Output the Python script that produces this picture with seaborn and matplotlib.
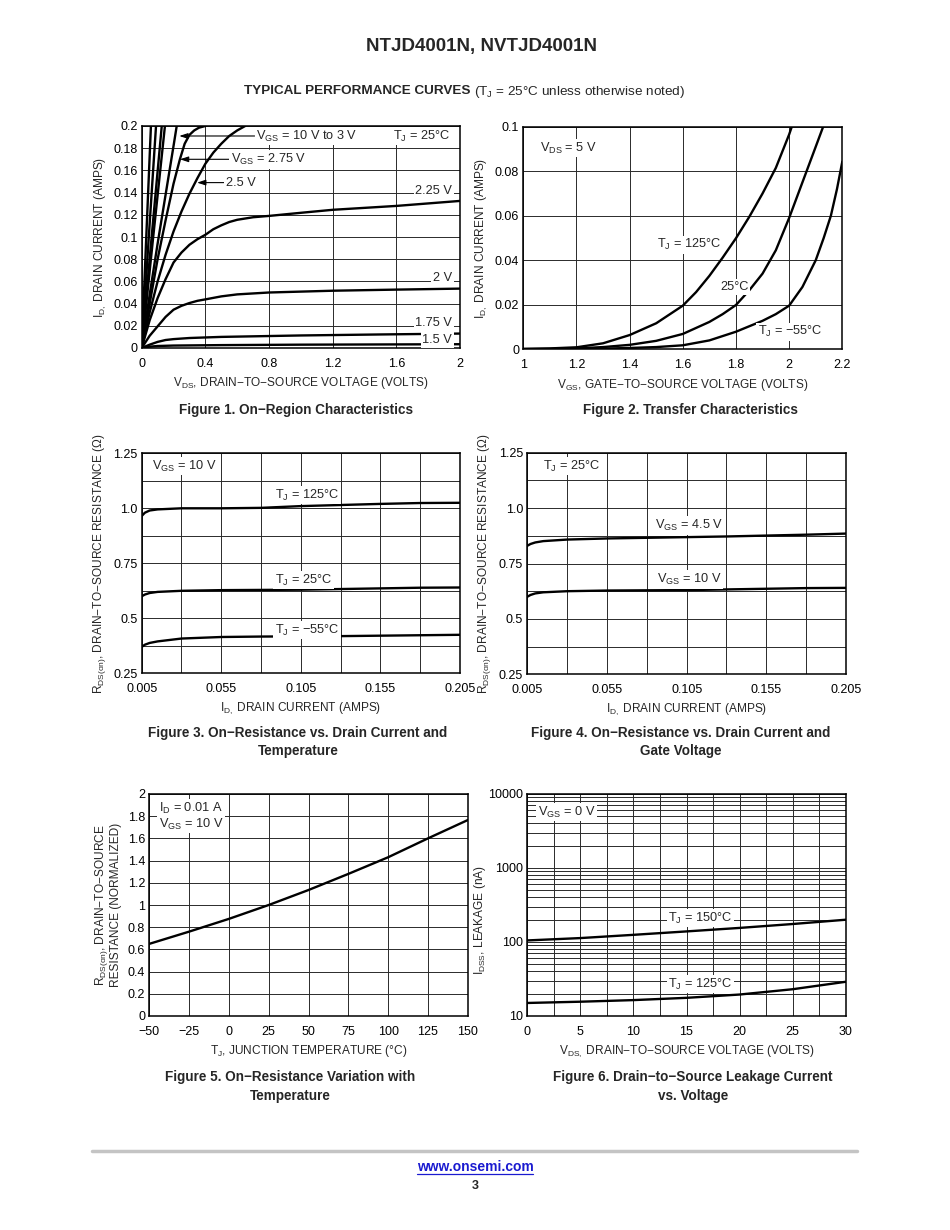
import numpy as np
import pandas as pd
import matplotlib
matplotlib.use("Agg")
import matplotlib.pyplot as plt
import seaborn as sns
from matplotlib.ticker import MultipleLocator, FixedLocator, NullFormatter, FuncFormatter, LogLocator
from matplotlib.lines import Line2D

# ---------------- DATA ----------------
# Figure 1: On-region characteristics (VDS in V, ID in A)
f1_vgs10_vds = [0, 0.029, 0.058]
f1_vgs10_id = [0, 0.101, 0.2]
f1_vgs45_vds = [0, 0.045, 0.09]
f1_vgs45_id = [0, 0.101, 0.2]
f1_vgs4_vds = [0, 0.063, 0.126]
f1_vgs4_id = [0, 0.101, 0.2]
f1_vgs35_vds = [0, 0.073, 0.146]
f1_vgs35_id = [0, 0.101, 0.2]
f1_vgs3_vds = [0, 0.05, 0.1, 0.15, 0.2, 0.22]
f1_vgs3_id = [0, 0.048, 0.094, 0.138, 0.182, 0.2]
f1_vgs275_vds = [0, 0.05, 0.1, 0.15, 0.2, 0.24, 0.27, 0.3, 0.33, 0.36, 0.4]
f1_vgs275_id = [0, 0.04, 0.08, 0.115, 0.148, 0.170, 0.184, 0.192, 0.196, 0.1985, 0.2]
f1_vgs25_vds = [0, 0.05, 0.1, 0.15, 0.2, 0.25, 0.3, 0.35, 0.4, 0.45, 0.5, 0.55, 0.6, 0.65]
f1_vgs25_id = [0, 0.032, 0.06, 0.084, 0.105, 0.123, 0.139, 0.153, 0.166, 0.176, 0.184, 0.191, 0.196, 0.2]
f1_vgs225_vds = [0, 0.05, 0.1, 0.15, 0.2, 0.25, 0.3, 0.35, 0.4, 0.45, 0.5, 0.55, 0.6, 0.7, 0.8, 1.0, 1.2, 1.6, 2.0]
f1_vgs225_id = [0, 0.025, 0.045, 0.062, 0.077, 0.086, 0.093, 0.098, 0.102, 0.107, 0.1105, 0.1135, 0.1155, 0.1178, 0.119,
                0.1218, 0.1245, 0.128, 0.1325]
f1_vgs2_vds = [0, 0.05, 0.1, 0.15, 0.2, 0.25, 0.3, 0.35, 0.4, 0.5, 0.6, 0.8, 1.2, 1.6, 2.0]
f1_vgs2_id = [0, 0.011, 0.0195, 0.028, 0.0345, 0.038, 0.0405, 0.0425, 0.0438, 0.0465, 0.0483, 0.0500, 0.0516, 0.0526, 0.0535]
f1_vgs175_vds = [0, 0.05, 0.1, 0.15, 0.2, 0.3, 0.5, 1.0, 1.5, 2.0]
f1_vgs175_id = [0, 0.003, 0.0055, 0.0072, 0.008, 0.009, 0.01, 0.0113, 0.0122, 0.013]
f1_vgs15_vds = [0, 0.05, 0.1, 0.2, 0.5, 1.0, 2.0]
f1_vgs15_id = [0, 0.0012, 0.0018, 0.0022, 0.0026, 0.003, 0.0034]

# Figure 2: Transfer characteristics (VGS in V, ID in A)
f2_125_vgs = [1.0, 1.1, 1.2, 1.3, 1.4, 1.5, 1.6, 1.65, 1.7, 1.75, 1.8, 1.85, 1.9, 1.95, 2.0, 2.01]
f2_125_id = [0.0002, 0.0004, 0.0009, 0.0027, 0.0064, 0.0117, 0.0196, 0.0257, 0.033, 0.0412, 0.0499, 0.0595,
             0.070, 0.0815, 0.0965, 0.1]
f2_25_vgs = [1.0, 1.1, 1.2, 1.3, 1.4, 1.5, 1.6, 1.7, 1.75, 1.8, 1.85, 1.9, 1.95, 2.0, 2.05, 2.1, 2.128]
f2_25_id = [0.0001, 0.0002, 0.0004, 0.001, 0.002, 0.0038, 0.0069, 0.0123, 0.0158, 0.0199, 0.0265, 0.034, 0.0445,
            0.059, 0.075, 0.091, 0.1]
f2_m55_vgs = [1.0, 1.2, 1.3, 1.4, 1.5, 1.6, 1.7, 1.8, 1.9, 1.95, 2.0, 2.05, 2.1, 2.13, 2.157, 2.18, 2.2]
f2_m55_id = [0.0, 0.0001, 0.0003, 0.0006, 0.001, 0.0018, 0.004, 0.0079, 0.0128, 0.0158, 0.0196, 0.028, 0.040,
             0.050, 0.060, 0.072, 0.0843]

# Figure 3: RDS(on) vs ID and temperature (ID in A, R in ohm)
f3_id = [0.005, 0.007, 0.01, 0.015, 0.03, 0.055, 0.08, 0.105, 0.13, 0.155, 0.18, 0.205]
f3_125 = [0.965, 0.98, 0.99, 0.995, 1.0, 1.0, 1.002, 1.01, 1.015, 1.02, 1.024, 1.025]
f3_25 = [0.60, 0.608, 0.615, 0.62, 0.625, 0.628, 0.629, 0.63, 0.633, 0.636, 0.639, 0.64]
f3_m55 = [0.37, 0.38, 0.388, 0.395, 0.408, 0.415, 0.417, 0.418, 0.419, 0.421, 0.423, 0.425]

# Figure 4: RDS(on) vs ID and gate voltage
f4_id = [0.005, 0.007, 0.01, 0.015, 0.03, 0.055, 0.08, 0.105, 0.13, 0.155, 0.18, 0.205]
f4_vgs45 = [0.83, 0.838, 0.845, 0.851, 0.858, 0.863, 0.866, 0.869, 0.872, 0.876, 0.88, 0.885]
f4_vgs10 = [0.60, 0.608, 0.615, 0.62, 0.625, 0.628, 0.629, 0.63, 0.633, 0.636, 0.639, 0.64]

# Figure 5: normalized RDS(on) vs junction temperature
f5_tj = [-50, -25, 0, 25, 50, 75, 100, 125, 150]
f5_r = [0.65, 0.76, 0.875, 1.0, 1.135, 1.28, 1.43, 1.6, 1.765]

# Figure 6: leakage current vs VDS (nA)
f6_vds = [0, 5, 10, 15, 20, 25, 30]
f6_150 = [105, 113, 125, 139, 155, 175, 200]
f6_125 = [15, 15.6, 16.4, 17.6, 19.5, 23, 29]

# ---------------- STYLE ----------------
sns.set_theme(style="white")
plt.rcParams["font.family"] = ["Liberation Sans", "DejaVu Sans"]
plt.rcParams["mathtext.fontset"] = "custom"
plt.rcParams["mathtext.rm"] = "Liberation Sans"
plt.rcParams["mathtext.it"] = "Liberation Sans"
plt.rcParams["axes.unicode_minus"] = True

W, H = 950, 1230
fig = plt.figure(figsize=(W / 100, H / 100), dpi=100)
fig.patch.set_facecolor("white")

TICK_FS = 9
LAB_FS = 8.6
ANN_FS = 9.2
CAP_FS = 9.75
CURVE_LW = 1.7
GRID_C = "#2a2a2a"
GRID_LW = 0.7


def px_axes(x0, y0, x1, y1):
    return fig.add_axes([x0 / W, 1 - y1 / H, (x1 - x0) / W, (y1 - y0) / H])


def style(ax):
    for s in ax.spines.values():
        s.set_color("black")
        s.set_linewidth(1.1)
    ax.tick_params(which="both", length=0, labelsize=TICK_FS, colors="black")
    ax.tick_params(axis="x", pad=7)
    ax.tick_params(axis="y", pad=3)
    ax.grid(which="both", color=GRID_C, lw=GRID_LW)
    ax.set_axisbelow(True)
    ax.set_facecolor("white")


def curve(ax, x, y):
    sns.lineplot(x=x, y=y, ax=ax, color="black", lw=CURVE_LW, estimator=None, sort=False)


def label(ax, x, y, s, ha="left", va="center"):
    ax.text(x, y, s, ha=ha, va=va, fontsize=ANN_FS, zorder=5,
            bbox=dict(facecolor="white", edgecolor="none", pad=1.2))


def arrow_label(ax, xy, xytext, s):
    ax.annotate(s, xy=xy, xytext=xytext, ha="left", va="center", fontsize=ANN_FS, zorder=5,
                bbox=dict(facecolor="white", edgecolor="none", pad=1.2),
                arrowprops=dict(arrowstyle="-|>,head_length=0.55,head_width=0.18", color="black",
                                lw=0.8, shrinkA=0, shrinkB=0))


gfmt = FuncFormatter(lambda v, p: f"{v:g}".replace("-", "\u2212"))
XLP = 4

# ---------------- FIGURE 1 ----------------
ax1 = px_axes(141.7, 126, 460, 348)
style(ax1)
for xs, ys in [(f1_vgs10_vds, f1_vgs10_id), (f1_vgs45_vds, f1_vgs45_id), (f1_vgs4_vds, f1_vgs4_id),
               (f1_vgs35_vds, f1_vgs35_id), (f1_vgs3_vds, f1_vgs3_id), (f1_vgs275_vds, f1_vgs275_id),
               (f1_vgs25_vds, f1_vgs25_id), (f1_vgs225_vds, f1_vgs225_id), (f1_vgs2_vds, f1_vgs2_id),
               (f1_vgs175_vds, f1_vgs175_id), (f1_vgs15_vds, f1_vgs15_id)]:
    curve(ax1, xs, ys)
ax1.set_xlim(0, 2)
ax1.set_ylim(0, 0.2)
ax1.xaxis.set_major_locator(MultipleLocator(0.4))
ax1.yaxis.set_major_locator(MultipleLocator(0.02))
ax1.xaxis.set_major_formatter(gfmt)
ax1.yaxis.set_major_formatter(gfmt)
ax1.set_xlabel(r"$\mathregular{V_{DS}}$, DRAIN−TO−SOURCE VOLTAGE (VOLTS)", fontsize=LAB_FS, labelpad=XLP)
ax1.set_ylabel(r"$\mathregular{I_{D,}}$ DRAIN CURRENT (AMPS)", fontsize=LAB_FS, labelpad=4)
arrow_label(ax1, (0.236, 0.191), (0.72, 0.191), r"$\mathregular{V_{GS}}$ = 10 V to 3 V")
arrow_label(ax1, (0.24, 0.170), (0.56, 0.170), r"$\mathregular{V_{GS}}$ = 2.75 V")
arrow_label(ax1, (0.348, 0.149), (0.53, 0.149), "2.5 V")
label(ax1, 1.94, 0.191, r"$\mathregular{T_J}$ = 25°C", ha="right")
label(ax1, 1.95, 0.1414, "2.25 V", ha="right")
label(ax1, 1.95, 0.063, "2 V", ha="right")
label(ax1, 1.95, 0.0225, "1.75 V", ha="right")
label(ax1, 1.95, 0.0072, "1.5 V", ha="right")

# ---------------- FIGURE 2 ----------------
ax2 = px_axes(523.3, 126.7, 842.3, 349.3)
style(ax2)
curve(ax2, f2_125_vgs, f2_125_id)
curve(ax2, f2_25_vgs, f2_25_id)
curve(ax2, f2_m55_vgs, f2_m55_id)
ax2.set_xlim(1, 2.2)
ax2.set_ylim(0, 0.1)
ax2.xaxis.set_major_locator(MultipleLocator(0.2))
ax2.yaxis.set_major_locator(MultipleLocator(0.02))
ax2.xaxis.set_major_formatter(gfmt)
ax2.yaxis.set_major_formatter(gfmt)
ax2.set_xlabel(r"$\mathregular{V_{GS}}$, GATE−TO−SOURCE VOLTAGE (VOLTS)", fontsize=LAB_FS, labelpad=XLP)
ax2.set_ylabel(r"$\mathregular{I_{D,}}$ DRAIN CURRENT (AMPS)", fontsize=LAB_FS, labelpad=4)
label(ax2, 1.063, 0.0904, r"$\mathregular{V_{DS}}$ = 5 V")
label(ax2, 1.503, 0.0469, r"$\mathregular{T_J}$ = 125°C")
label(ax2, 1.74, 0.028, "25°C")
label(ax2, 1.883, 0.0078, r"$\mathregular{T_J}$ = −55°C")


def rds_axes(ax):
    ax.set_xlim(0.005, 0.205)
    ax.set_ylim(0.25, 1.25)
    ax.xaxis.set_major_locator(FixedLocator([0.005, 0.055, 0.105, 0.155, 0.205]))
    ax.xaxis.set_minor_locator(FixedLocator([0.03, 0.08, 0.13, 0.18]))
    ax.yaxis.set_major_locator(FixedLocator([0.25, 0.5, 0.75, 1.0, 1.25]))
    ax.yaxis.set_minor_locator(FixedLocator([0.375, 0.625, 0.875, 1.125]))
    ax.xaxis.set_major_formatter(FuncFormatter(lambda v, p: f"{v:.3f}"))
    ax.yaxis.set_major_formatter(FuncFormatter(lambda v, p: "1.0" if abs(v - 1) < 1e-9 else f"{v:g}"))
    ax.xaxis.set_minor_formatter(NullFormatter())
    ax.yaxis.set_minor_formatter(NullFormatter())
    ax.set_xlabel(r"$\mathregular{I_{D,}}$ DRAIN CURRENT (AMPS)", fontsize=LAB_FS, labelpad=XLP)
    ax.set_ylabel(r"$\mathregular{R_{DS(on)}}$, DRAIN−TO−SOURCE RESISTANCE (Ω)", fontsize=LAB_FS, labelpad=4)


# ---------------- FIGURE 3 ----------------
ax3 = px_axes(141.7, 453.3, 460, 673.3)
style(ax3)
curve(ax3, f3_id, f3_125)
curve(ax3, f3_id, f3_25)
curve(ax3, f3_id, f3_m55)
rds_axes(ax3)
label(ax3, 0.0115, 1.192, r"$\mathregular{V_{GS}}$ = 10 V")
label(ax3, 0.0888, 1.06, r"$\mathregular{T_J}$ = 125°C")
label(ax3, 0.0888, 0.674, r"$\mathregular{T_J}$ = 25°C")
label(ax3, 0.0888, 0.447, r"$\mathregular{T_J}$ = −55°C")

# ---------------- FIGURE 4 ----------------
ax4 = px_axes(527.3, 452.7, 846, 674.3)
style(ax4)
curve(ax4, f4_id, f4_vgs45)
curve(ax4, f4_id, f4_vgs10)
rds_axes(ax4)
label(ax4, 0.0149, 1.19, r"$\mathregular{T_J}$ = 25°C")
label(ax4, 0.085, 0.922, r"$\mathregular{V_{GS}}$ = 4.5 V")
label(ax4, 0.0864, 0.677, r"$\mathregular{V_{GS}}$ = 10 V")

# ---------------- FIGURE 5 ----------------
ax5 = px_axes(149.3, 794, 467.7, 1016)
style(ax5)
curve(ax5, f5_tj, f5_r)
ax5.set_xlim(-50, 150)
ax5.set_ylim(0, 2)
ax5.xaxis.set_major_locator(MultipleLocator(25))
ax5.yaxis.set_major_locator(MultipleLocator(0.2))
ax5.xaxis.set_major_formatter(gfmt)
ax5.yaxis.set_major_formatter(gfmt)
ax5.set_xlabel(r"$\mathregular{T_J}$, JUNCTION TEMPERATURE (°C)", fontsize=LAB_FS, labelpad=XLP)
ax5.set_ylabel(r"$\mathregular{R_{DS(on)}}$, DRAIN−TO−SOURCE" + "\nRESISTANCE (NORMALIZED)",
               fontsize=LAB_FS, labelpad=4, linespacing=1.0)
label(ax5, -44, 1.874, r"$\mathregular{I_D}$ = 0.01 A")
label(ax5, -44, 1.73, r"$\mathregular{V_{GS}}$ = 10 V")

# ---------------- FIGURE 6 ----------------
ax6 = px_axes(527.3, 794, 845.7, 1016)
style(ax6)
curve(ax6, f6_vds, f6_150)
curve(ax6, f6_vds, f6_125)
ax6.set_yscale("log")
ax6.set_xlim(0, 30)
ax6.set_ylim(10, 10000)
ax6.xaxis.set_major_locator(MultipleLocator(5))
ax6.xaxis.set_minor_locator(MultipleLocator(2.5))
ax6.xaxis.set_major_formatter(gfmt)
ax6.xaxis.set_minor_formatter(NullFormatter())
ax6.yaxis.set_major_locator(LogLocator(base=10, numticks=10))
ax6.yaxis.set_minor_locator(LogLocator(base=10, subs=np.arange(2, 10), numticks=20))
ax6.yaxis.set_major_formatter(FuncFormatter(lambda v, p: f"{v:.0f}"))
ax6.yaxis.set_minor_formatter(NullFormatter())
ax6.set_xlabel(r"$\mathregular{V_{DS,}}$ DRAIN−TO−SOURCE VOLTAGE (VOLTS)", fontsize=LAB_FS, labelpad=XLP)
ax6.set_ylabel(r"$\mathregular{I_{DSS}}$, LEAKAGE (nA)", fontsize=LAB_FS)
ax6.yaxis.set_label_coords(-0.123, 0.43)
label(ax6, 1.0, 5700, r"$\mathregular{V_{GS}}$ = 0 V")
label(ax6, 13.3, 211, r"$\mathregular{T_J}$ = 150°C")
label(ax6, 13.3, 27, r"$\mathregular{T_J}$ = 125°C")

# ---------------- PAGE TEXT ----------------
def ft(x, y, s, **kw):
    fig.text(x / W, 1 - y / H, s, **kw)


ft(482, 46, "NTJD4001N, NVTJD4001N", ha="center", va="center", fontsize=13.5, weight="bold")
ft(470, 91, "TYPICAL PERFORMANCE CURVES", ha="right", va="center", fontsize=9.7, weight="bold")
ft(474, 92, r"($\mathregular{T_J}$ = 25°C unless otherwise noted)", ha="left", va="center", fontsize=9.7)

caps = [
    (296, 410, "Figure 1. On−Region Characteristics"),
    (690, 410, "Figure 2. Transfer Characteristics"),
    (298, 742, "Figure 3. On−Resistance vs. Drain Current and\nTemperature"),
    (681, 742, "Figure 4. On−Resistance vs. Drain Current and\nGate Voltage"),
    (290, 1086.5, "Figure 5. On−Resistance Variation with\nTemperature"),
    (693, 1086.5, "Figure 6. Drain−to−Source Leakage Current\nvs. Voltage"),
]
for x, y, s in caps:
    ft(x, y, s, ha="center", va="center", fontsize=CAP_FS, weight="bold", linespacing=1.4)

fig.add_artist(Line2D([92 / W, 857 / W], [1 - 1151 / H] * 2, color="#c4c4c4", lw=2.5))
ft(475, 1167, "www.onsemi.com", ha="center", va="center", fontsize=10, weight="bold", color="#1a1ad0")
fig.add_artist(Line2D([417 / W, 533 / W], [1 - 1173.5 / H] * 2, color="#1a1ad0", lw=0.9))
ft(475, 1186, "3", ha="center", va="center", fontsize=9, weight="bold")

fig.savefig("out.png", dpi=100, facecolor="white")
